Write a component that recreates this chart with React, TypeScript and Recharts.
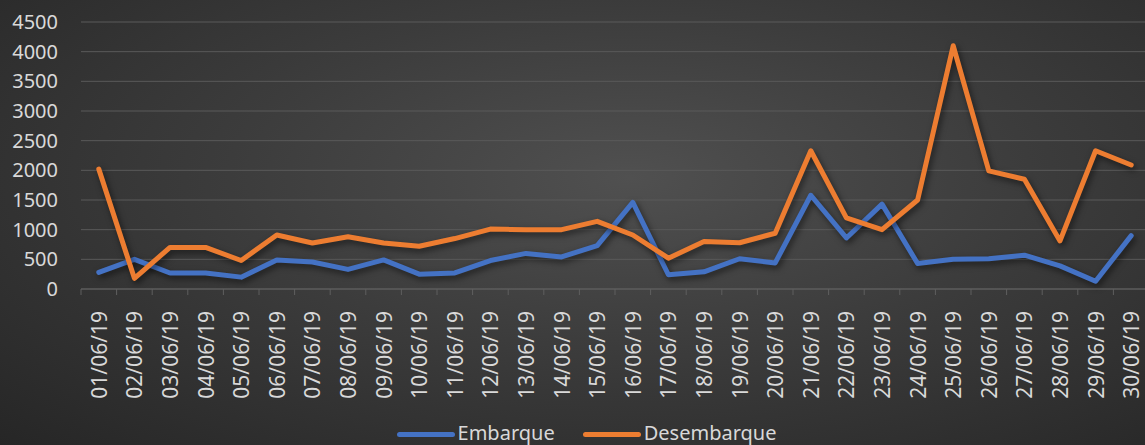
import React from 'react';
import { LineChart, Line, XAxis, YAxis, CartesianGrid, Legend } from 'recharts';

const days = [
  '01/06/19', '02/06/19', '03/06/19', '04/06/19', '05/06/19', '06/06/19',
  '07/06/19', '08/06/19', '09/06/19', '10/06/19', '11/06/19', '12/06/19',
  '13/06/19', '14/06/19', '15/06/19', '16/06/19', '17/06/19', '18/06/19',
  '19/06/19', '20/06/19', '21/06/19', '22/06/19', '23/06/19', '24/06/19',
  '25/06/19', '26/06/19', '27/06/19', '28/06/19', '29/06/19', '30/06/19',
];

const embarque = [
  280, 500, 270, 270, 200, 490, 455, 330, 490, 250, 270, 480, 600, 540, 730,
  1460, 240, 290, 510, 440, 1580, 860, 1430, 430, 500, 510, 570, 390, 130, 900,
];

const desembarque = [
  2020, 180, 700, 700, 480, 910, 775, 880, 775, 720, 850, 1010, 1000, 1000,
  1140, 910, 520, 800, 780, 940, 2330, 1200, 1000, 1500, 4100, 1990, 1850,
  810, 2330, 2090,
];

const yTicks = [0, 500, 1000, 1500, 2000, 2500, 3000, 3500, 4000, 4500];

const BLUE = '#4472C4';
const ORANGE = '#ED7D31';
const TEXT = '#d9d9d9';
const FONT = '"Noto Sans", sans-serif';

const chartData = days.map((d, i) => ({
  day: d,
  Embarque: embarque[i],
  Desembarque: desembarque[i],
}));

const W = 1149;
const H = 445;
const LEFT = 81;

// rotated date label plus a tick mark on the category boundary
const DateTick = (props: any) => {
  const { x, y, payload } = props;
  const band = (W - LEFT) / days.length;
  const bx = x - band / 2;
  return (
    <g>
      <line x1={bx} y1={y - 8} x2={bx} y2={y - 2} stroke="#5f5f5f" />
      <text
        x={x}
        y={y + 14}
        transform={`rotate(-90, ${x}, ${y + 14})`}
        textAnchor="end"
        dominantBaseline="central"
        fill={TEXT}
        fontSize={21}
        fontFamily={FONT}
      >
        {payload.value}
      </text>
    </g>
  );
};

const LegendBox = () => (
  <div
    style={{
      display: 'flex',
      alignItems: 'center',
      justifyContent: 'center',
      paddingLeft: 24,
      marginTop: 4,
      fontFamily: FONT,
      fontSize: 20,
      color: TEXT,
      lineHeight: '24px',
    }}
  >
    {[
      { name: 'Embarque', color: BLUE },
      { name: 'Desembarque', color: ORANGE },
    ].map((it, i) => (
      <div key={it.name} style={{ display: 'flex', alignItems: 'center', marginLeft: i ? 28 : 0 }}>
        <span
          style={{
            display: 'inline-block',
            width: 58,
            height: 5,
            borderRadius: 3,
            background: it.color,
            marginRight: 3,
            marginTop: 2,
          }}
        />
        {it.name}
      </div>
    ))}
  </div>
);

export default function App() {
  return (
    <div
      style={{
        width: 1145,
        height: H,
        overflow: 'hidden',
        position: 'relative',
        background: 'radial-gradient(ellipse at 55% 40%, #505050 0%, #3c3c3c 45%, #262626 100%)',
      }}
    >
      <style>{`
        body { margin: 0; }
        .recharts-line-curve { filter: drop-shadow(2px 3px 3px rgba(0,0,0,0.55)); }
      `}</style>
      <LineChart
        width={W}
        height={H}
        data={chartData}
        margin={{ top: 22, right: 0, bottom: 0, left: 0 }}
      >
        <CartesianGrid vertical={false} stroke="#5a5a5a" strokeWidth={1} />
        <XAxis
          dataKey="day"
          scale="band"
          interval={0}
          height={128}
          axisLine={{ stroke: '#5f5f5f' }}
          tickLine={false}
          tick={<DateTick />}
        />
        <YAxis
          domain={[0, 4500]}
          ticks={yTicks}
          width={LEFT}
          axisLine={false}
          tickLine={false}
          tickSize={0}
          tickMargin={23}
          tick={{ fill: TEXT, fontSize: 20, fontFamily: FONT }}
        />
        <Legend verticalAlign="bottom" content={<LegendBox />} />
        <Line
          type="linear"
          dataKey="Embarque"
          stroke={BLUE}
          strokeWidth={5}
          strokeLinejoin="round"
          strokeLinecap="round"
          dot={false}
          isAnimationActive={false}
        />
        <Line
          type="linear"
          dataKey="Desembarque"
          stroke={ORANGE}
          strokeWidth={5}
          strokeLinejoin="round"
          strokeLinecap="round"
          dot={false}
          isAnimationActive={false}
        />
      </LineChart>
    </div>
  );
}
